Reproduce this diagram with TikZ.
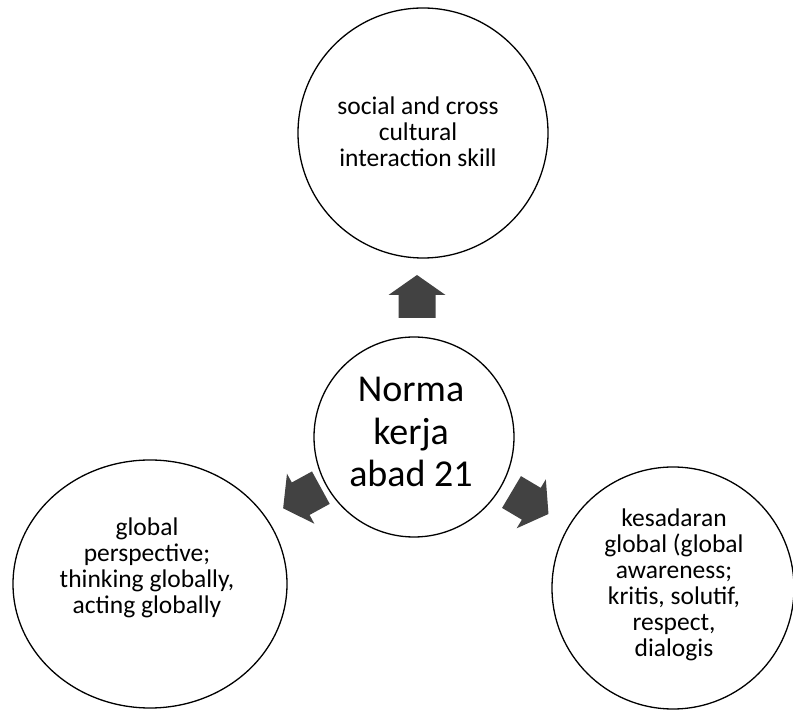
\documentclass[tikz,border=0pt]{standalone}
\usepackage{fontspec}
\setmainfont{Carlito}
\usetikzlibrary{shapes.geometric}
\begin{document}
\begin{tikzpicture}[x=1pt,y=1pt,
  bubble/.style={circle, draw=black, line width=1.3pt, inner sep=0pt},
  oval/.style={ellipse, draw=black, line width=1.3pt, inner sep=0pt},
  smalltxt/.style={align=center, inner sep=0pt, font=\fontsize{25.5}{26}\selectfont},
  bigtxt/.style={align=center, inner sep=0pt, font=\fontsize{38}{42.5}\selectfont},
  blockarrow/.pic={\fill[black!74] (-21.5,-18.5) -- (1.5,-18.5) -- (1.5,-28.5) -- (21.5,0)
      -- (1.5,28.5) -- (1.5,18.5) -- (-21.5,18.5) -- cycle;}]
\useasboundingbox (0,0) rectangle (793,710);
% circles
\node[bubble, minimum size=250pt] (top) at (423,577) {};
\node[bubble, minimum size=200pt] (mid) at (414,273) {};
\node[oval, minimum width=274pt, minimum height=248pt] (left) at (150,126) {};
\node[bubble, minimum size=242pt] (right) at (673,122) {};
% texts
\node[smalltxt] (toptxt) at (418,578) {social and cross\\cultural\\interaction skill};
\node[bigtxt] (midtxt) at (411,278) {Norma\\kerja\\abad 21};
\node[smalltxt] (lefttxt) at (147,142) {global\\perspective;\\thinking globally,\\acting globally};
\node[smalltxt] (righttxt) at (674,125) {kesadaran\\global (global\\awareness;\\kritis, solutif,\\respect,\\dialogis};
% block arrows
\pic[rotate=90] (aup) at (417,413.5) {blockarrow};
\pic[rotate=208.7] (aleft) at (302,212) {blockarrow};
\pic[rotate=-30.7] (aright) at (530,207) {blockarrow};
\end{tikzpicture}
\end{document}
